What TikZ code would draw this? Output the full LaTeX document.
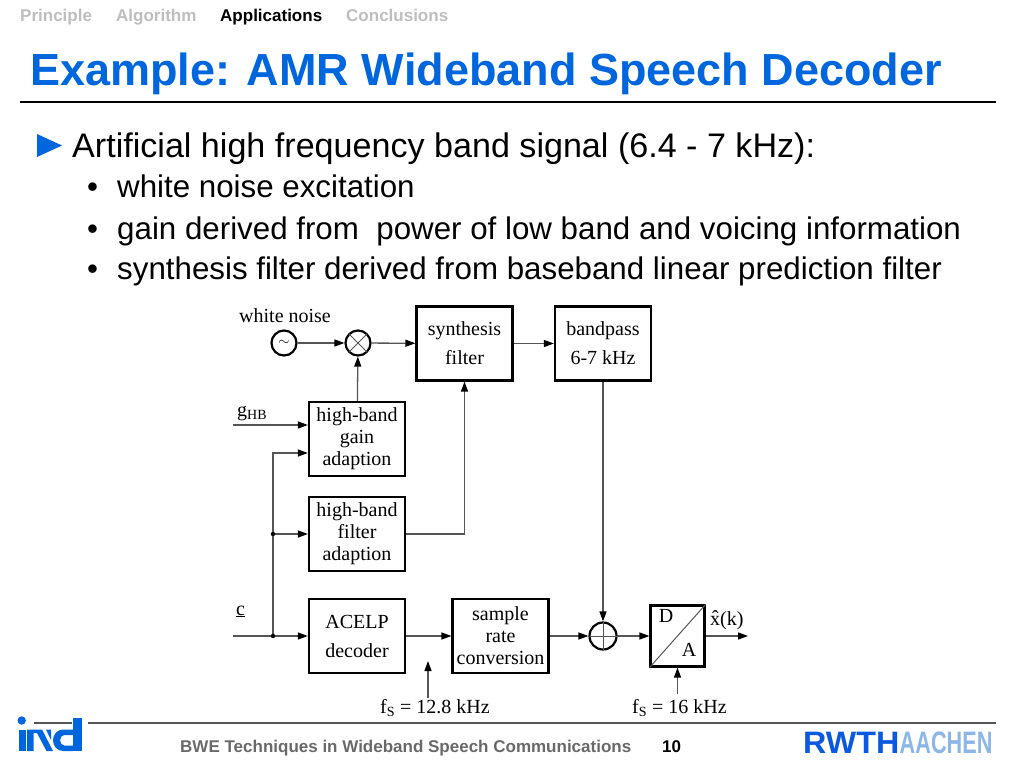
\documentclass[tikz,border=0pt]{standalone}
\usepackage{graphicx}
\usepackage{fontspec}
\setmainfont{Liberation Sans}
\newfontfamily\tms{Liberation Serif}
\usepackage{xcolor}
\usepackage{tikz}
\usetikzlibrary{arrows.meta}
\usetikzlibrary{positioning}

\definecolor{slideblue}{RGB}{0,102,221}
\definecolor{navgrey}{RGB}{190,190,190}
\definecolor{footgrey}{RGB}{105,105,105}
\definecolor{wiregrey}{RGB}{85,85,85}
\definecolor{rwthblue}{RGB}{10,90,225}
\definecolor{aachenblue}{RGB}{140,182,230}

\tikzset{
  block/.style={draw,line width=2.2pt,minimum width=96pt,minimum height=74pt,inner sep=0pt,align=center,font=\tms\fontsize{20}{22}\selectfont},
  junc/.style={circle,draw,line width=2.2pt,minimum size=25pt,inner sep=0pt},
  wire/.style={draw=wiregrey,line width=1.3pt,-{Triangle[length=10pt,width=7pt,color=black]}},
  lbl/.style={font=\tms\fontsize{20}{22}\selectfont,inner sep=0pt,anchor=base west},
  slidetxt/.style={inner sep=0pt,anchor=base west},
}

\begin{document}
\begin{tikzpicture}[x=1pt,y=-1pt]
        \useasboundingbox (0,0) rectangle (1024,768);
        % header
        \node[slidetxt,font=\bfseries\fontsize{17}{20}\selectfont,text=navgrey] (nav1) at (20,22) {Principle};
        \node[slidetxt,font=\bfseries\fontsize{17}{20}\selectfont,text=navgrey] (nav2) at (116,22) {Algorithm};
        \node[slidetxt,font=\bfseries\fontsize{17}{20}\selectfont] (nav3) at (220,22) {Applications};
        \node[slidetxt,font=\bfseries\fontsize{17}{20}\selectfont,text=navgrey] (nav4) at (346,22) {Conclusions};
        \node[slidetxt,font=\bfseries\fontsize{45}{50}\selectfont,text=slideblue] (title) at (30,85) {Example: AMR Wideband Speech Decoder};
        \draw[line width=2pt] (20,102) -- (996,102);
        % bullets
        \fill[slideblue] (37,134) -- (62,145.5) -- (37,157) -- cycle;
        \node[slidetxt,font=\fontsize{34.1}{40}\selectfont] (item) at (72,157) {Artificial high frequency band signal (6.4 - 7 kHz):};
        \foreach \yy/\txt in {197/{white noise excitation},239/{gain derived from\ \ power of low band and voicing information},279/{synthesis filter derived from baseband linear prediction filter}}{
            \node[slidetxt,font=\fontsize{31.3}{36}\selectfont] at (87,\yy) {\textbullet};
            \node[slidetxt,font=\fontsize{31.3}{36}\selectfont] at (117,\yy) {\txt};
        }
        % diagram
        \node[lbl] (wn) at (239,322) {white noise};
        \node[junc,font=\fontsize{15}{15}\selectfont] (noise) at (284,343) {$\sim$};
        \node[junc] (mult) at (358,343) {};
        \draw[wiregrey,line width=1pt] (mult.north east) -- (mult.south west) (mult.north west) -- (mult.south east);
        \node[block] (synth) at (464.5,343.5) {synthesis\\[7pt]filter};
        \node[block] (band) at (603,343.5) {bandpass\\[7pt]6-7 kHz};
        \node[block] (gain) at (357,439) {high-band\\gain\\adaption};
        \node[block] (hbfilt) at (357,534) {high-band\\filter\\adaption};
        \node[block] (acelp) at (357,636) {ACELP\\[7pt]decoder};
        \node[block] (src) at (500.5,636) {sample\\rate\\conversion};
        \node[junc,minimum size=27pt] (plus) at (603,636) {};
        \draw[wiregrey,line width=1pt] (plus.north) -- (plus.south) (plus.west) -- (plus.east);
        \node[block,minimum width=54pt,minimum height=61pt] (da) at (677.5,636) {};
        \draw[wiregrey,line width=1pt] (da.south west) -- (da.north east);
        \node[lbl,anchor=center] (dlbl) at (666,616) {D};
        \node[lbl,anchor=center] (albl) at (689,650) {A};
        \coordinate (gin) at (233,425);
        \coordinate (cin) at (233,636);
        \coordinate (csplit) at (273,636);
        \coordinate (fsplit) at (273,534);
        \coordinate (gtap) at (273,453);
        \coordinate (xout) at (748,636);
        \coordinate (fs1) at (428,698);
        \coordinate (fs2) at (677.5,694);
        \draw[wire] (noise) -- (mult);
        \draw[wire] (mult) -- (synth);
        \draw[wire] (synth) -- (band);
        \draw[wire] (gain) -- (mult);
        \draw[wire] (band) -- (plus);
        \draw[wire] (hbfilt.east) -| (synth.south);
        \draw[wire] (gin) -- (gin -| gain.west);
        \draw[wire] (cin) -- (acelp);
        \draw[wire] (csplit) -- (gtap) -- (gtap -| gain.west);
        \draw[wire] (fsplit) -- (hbfilt);
        \draw[wire] (acelp) -- (src);
        \draw[wire] (src) -- (plus);
        \draw[wire] (plus) -- (da);
        \draw[wire] (da) -- (xout);
        \draw[wire] (fs1) -- ++(0,-37);
        \draw[wire] (fs2) -- (da.south);
        \fill (csplit) circle[radius=2.2];
        \fill (fsplit) circle[radius=2.2];
        \node[lbl] (ghb) at (237,416) {g\textsubscript{HB}};
        \node[lbl] (clbl) at (236,615) {\underline{c}};
        \node[lbl] (xlbl) at (710,625) {\^{x}(k)};
        \node[lbl] (fslow) at (380,713) {f\textsubscript{S} = 12.8 kHz};
        \node[lbl] (fshigh) at (632,713) {f\textsubscript{S} = 16 kHz};
        % footer
        \draw[wiregrey,line width=1.5pt] (34,723) -- (996,723);
        \fill[white] (72,716) rectangle (88,730);
        \fill[slideblue] (21.7,720.5) circle[radius=4.2];
        \fill[slideblue] (19,729.5) rectangle (25.5,751);
        \fill[slideblue] (27,729.5) -- (42,729.5) -- (53,751) -- (46.5,751) -- (37,733) -- (33.5,733) -- (33.5,751) -- (27,751) -- cycle;
        \fill[slideblue] (46,729.5) -- (51,729.5) -- (51,740) -- cycle;
        \fill[slideblue,even odd rule] (73,729.5) -- (63,729.5) arc[start angle=90,end angle=270,x radius=10,y radius=-10.75] -- (73,751) -- cycle
            (73,735) -- (64.5,735) arc[start angle=90,end angle=270,x radius=4.5,y radius=-5.25] -- (73,745.5) -- cycle;
        \fill[slideblue] (73,718) rectangle (81.5,751);
        \node[slidetxt,font=\bfseries\fontsize{17}{20}\selectfont,text=footgrey] (foot) at (180,752) {BWE Techniques in Wideband Speech Communications};
        \node[slidetxt,font=\bfseries\fontsize{17}{20}\selectfont] (page) at (662,752) {10};
        \node[slidetxt,font=\bfseries\fontsize{31}{31}\selectfont,text=rwthblue] (rwth) at (803,753) {\scalebox{1.04}[1]{RWTH}};
        \node[slidetxt,font=\bfseries\fontsize{31}{31}\selectfont,text=aachenblue] (aachen) at (rwth.base east) {\scalebox{0.7}[1]{AACHEN}};
\end{tikzpicture}
\end{document}
